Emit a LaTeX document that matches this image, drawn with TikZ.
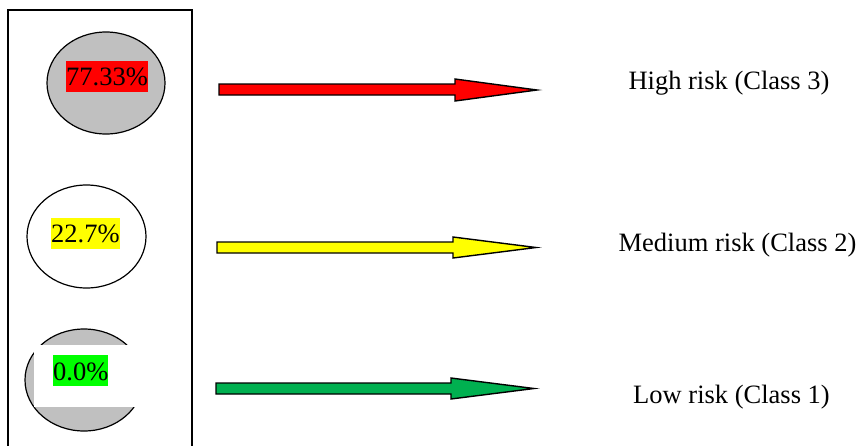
\documentclass[tikz,border=0pt]{standalone}
\usepackage{fontspec}
\setmainfont{Liberation Serif}
\usetikzlibrary{shapes.geometric}
\definecolor{silverfill}{RGB}{192,192,192}
\definecolor{hired}{RGB}{255,0,0}
\definecolor{medyellow}{RGB}{255,255,0}
\definecolor{lowgreen}{RGB}{0,255,0}
\definecolor{arrowgreen}{RGB}{0,176,80}
\tikzset{
  blob/.style={draw=black, line width=1.2pt, shape=ellipse, inner sep=0pt},
  pct/.style={inner xsep=0pt, inner ysep=0pt, text height=24.7pt, text depth=6pt, anchor=base west, font=\fontsize{26.5}{30}\selectfont},
  risklabel/.style={anchor=base, inner sep=0pt, font=\fontsize{26.5}{30}\selectfont},
  blockarrow/.style={draw=black, line width=1.4pt, line join=miter}
}
\begin{document}
\begin{tikzpicture}[x=1pt,y=-1pt]
\useasboundingbox (0,0) rectangle (862,445);
\fill[white] (0,0) rectangle (862,445);
% frame
\draw[line width=1.5pt] (8,460) -- (8,10) -- (192,10) -- (192,460);
% ellipses
\node[blob, fill=silverfill, minimum width=118pt, minimum height=102pt] (e3) at (106,83) {};
\node[blob, fill=white, minimum width=119pt, minimum height=103pt] (e2) at (86.5,236.5) {};
\node[blob, fill=silverfill, minimum width=118pt, minimum height=102pt] (e1) at (84,380) {};
\fill[white] (34,345) rectangle (152,407);
% percentage labels
\node[pct, fill=hired] (p3) at (66,85.7) {77.33\%};
\node[pct, fill=medyellow] (p2) at (51,242.7) {22.7\%};
\node[pct, fill=lowgreen] (p1) at (53,380) {0.0\%};
% block arrows
\draw[blockarrow, fill=hired] (219,84) -- (455,84) -- (455,79) -- (537,90) -- (455,101) -- (455,95) -- (219,95) -- cycle;
\draw[blockarrow, fill=medyellow] (217,242) -- (453,242) -- (453,237) -- (536,247.5) -- (453,258) -- (453,253) -- (217,253) -- cycle;
\draw[blockarrow, fill=arrowgreen] (216,383) -- (451,383) -- (451,378) -- (534,388.5) -- (451,399) -- (451,394) -- (216,394) -- cycle;
% risk labels
\node[risklabel] (l3) at (729,89.3) {High risk (Class 3)};
\node[risklabel] (l2) at (737.5,251.5) {Medium risk (Class 2)};
\node[risklabel] (l1) at (731.5,403) {Low risk (Class 1)};
\end{tikzpicture}
\end{document}
